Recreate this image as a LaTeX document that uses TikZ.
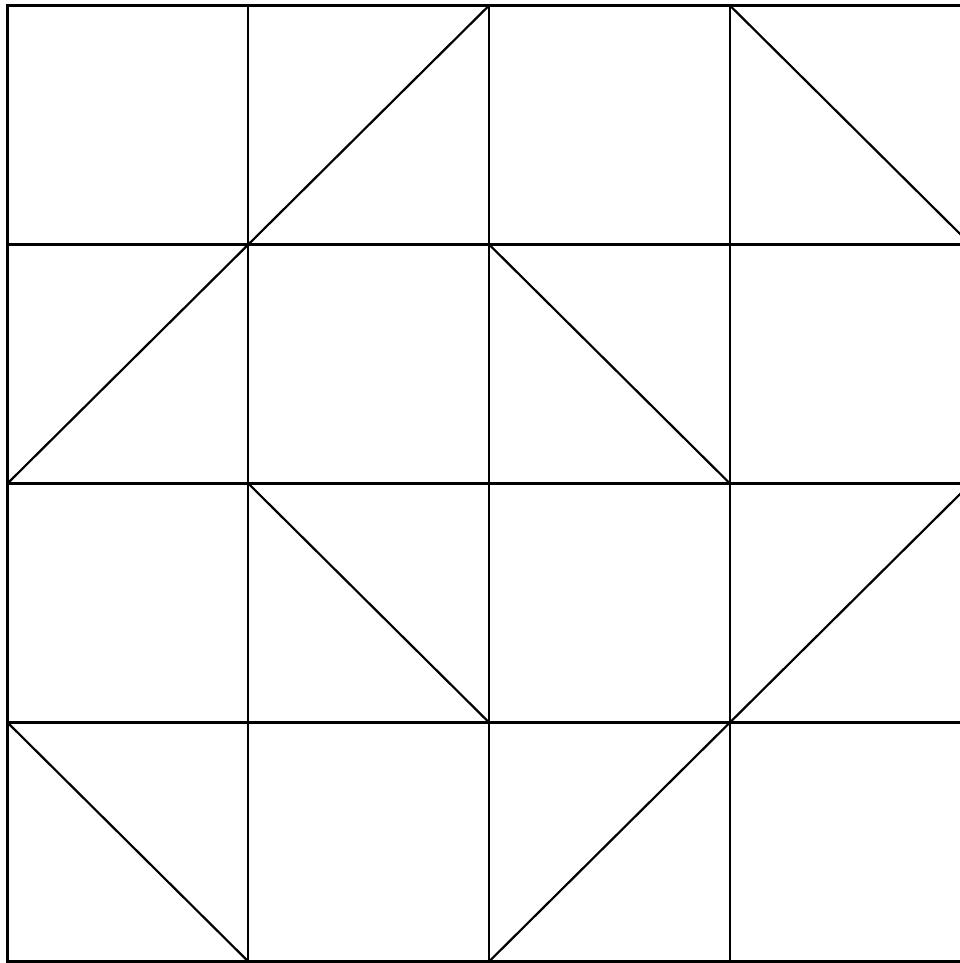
\documentclass[tikz,border=0pt]{standalone}
\usepackage{tikz}

\begin{document}
\begin{tikzpicture}[
  x=240.8pt,y=-239pt,
  gridline/.style={black,line width=2.4pt,line cap=rect},
  diag/.style={black,line width=2.2pt}
]
  \useasboundingbox (-0.0311,-0.0230) rectangle (3.9555,4.0063);
  % square grid
  \foreach \i in {0,...,4} {
    \draw[gridline] (\i,0) -- (\i,4);
    \draw[gridline] (0,\i) -- (4,\i);
  }
  % diagonals, row by row
  \draw[diag] (1,1) -- (2,0);
  \draw[diag] (3,0) -- (4,1);
  \draw[diag] (0,2) -- (1,1);
  \draw[diag] (2,1) -- (3,2);
  \draw[diag] (1,2) -- (2,3);
  \draw[diag] (3,3) -- (4,2);
  \draw[diag] (0,3) -- (1,4);
  \draw[diag] (2,4) -- (3,3);
\end{tikzpicture}
\end{document}
